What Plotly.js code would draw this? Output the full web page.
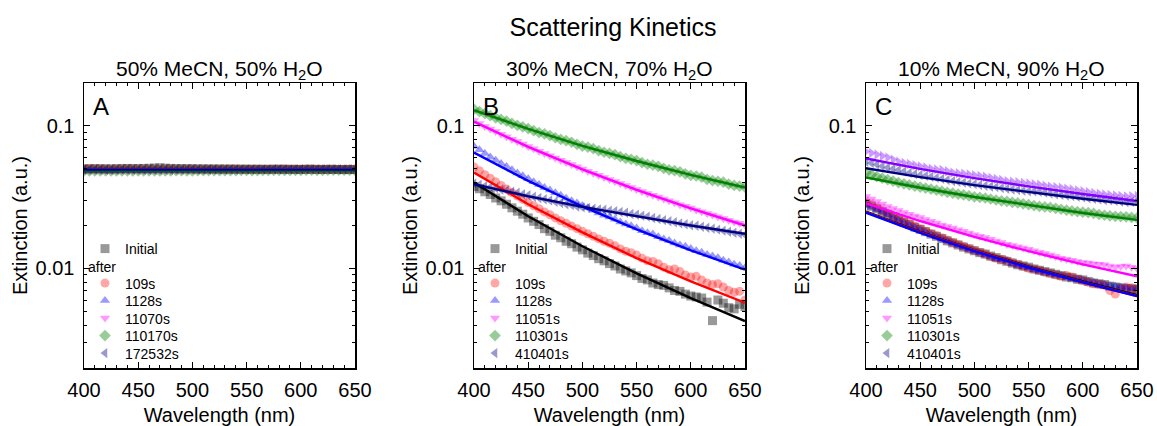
<!DOCTYPE html>
<html>
<head>
<meta charset="utf-8">
<script src="https://cdn.plot.ly/plotly-3.0.1.min.js"></script>
<style>html,body{margin:0;padding:0;background:#fff;}#chart{width:1157px;height:426px;}</style>
</head>
<body>
<div id="chart"></div>
<script>
// ---------------- DATA ----------------
const wl = [400,405,410,415,420,425,430,435,440,445,450,455,460,465,470,475,480,485,490,495,500,505,510,515,520,525,530,535,540,545,550,555,560,565,570,575,580,585,590,595,600,605,610,615,620,625,630,635,640,645,650];
const fitWl = [400,450,500,550,600,650];
const fitWlA = [400,650];

const seriesNamesA = ['Initial','109s','1128s','11070s','110170s','172532s'];
const seriesNamesBC = ['Initial','109s','1128s','11051s','110301s','410401s'];

// Panel A: 50% MeCN, 50% H2O
const A_initial = [0.0500,0.0501,0.0502,0.0501,0.0500,0.0500,0.0501,0.0502,0.0503,0.0502,0.0502,0.0503,0.0504,0.0506,0.0508,0.0505,0.0503,0.0502,0.0502,0.0501,0.0501,0.0500,0.0500,0.0499,0.0499,0.0499,0.0499,0.0498,0.0498,0.0497,0.0497,0.0497,0.0497,0.0496,0.0496,0.0497,0.0497,0.0496,0.0496,0.0495,0.0495,0.0496,0.0496,0.0495,0.0495,0.0495,0.0495,0.0494,0.0494,0.0494,0.0494];
const A_109s = [0.0496,0.0497,0.0497,0.0496,0.0496,0.0495,0.0496,0.0497,0.0496,0.0497,0.0496,0.0495,0.0496,0.0495,0.0495,0.0496,0.0496,0.0495,0.0495,0.0496,0.0496,0.0495,0.0495,0.0496,0.0496,0.0495,0.0495,0.0496,0.0496,0.0497,0.0496,0.0497,0.0497,0.0496,0.0497,0.0497,0.0496,0.0498,0.0497,0.0498,0.0497,0.0498,0.0498,0.0497,0.0497,0.0498,0.0498,0.0497,0.0497,0.0498,0.0498];
const A_1128s = [0.0490,0.0491,0.0491,0.0490,0.0489,0.0490,0.0490,0.0491,0.0491,0.0490,0.0490,0.0489,0.0489,0.0490,0.0490,0.0491,0.0491,0.0490,0.0490,0.0491,0.0492,0.0491,0.0491,0.0492,0.0492,0.0493,0.0493,0.0492,0.0492,0.0493,0.0493,0.0494,0.0494,0.0495,0.0495,0.0494,0.0494,0.0496,0.0496,0.0497,0.0497,0.0496,0.0496,0.0497,0.0498,0.0497,0.0497,0.0497,0.0497,0.0496,0.0496];
const A_11070s = [0.0488,0.0487,0.0487,0.0488,0.0488,0.0489,0.0489,0.0488,0.0488,0.0487,0.0487,0.0488,0.0488,0.0489,0.0489,0.0488,0.0488,0.0489,0.0489,0.0490,0.0490,0.0489,0.0489,0.0490,0.0490,0.0491,0.0491,0.0490,0.0490,0.0491,0.0491,0.0492,0.0492,0.0491,0.0491,0.0492,0.0492,0.0493,0.0493,0.0492,0.0492,0.0493,0.0493,0.0494,0.0494,0.0493,0.0493,0.0494,0.0494,0.0493,0.0493];
const A_110170s = [0.0484,0.0483,0.0483,0.0484,0.0484,0.0483,0.0483,0.0484,0.0484,0.0483,0.0483,0.0484,0.0484,0.0483,0.0483,0.0484,0.0484,0.0485,0.0485,0.0484,0.0484,0.0485,0.0485,0.0486,0.0486,0.0485,0.0485,0.0486,0.0486,0.0487,0.0487,0.0486,0.0486,0.0487,0.0487,0.0488,0.0488,0.0487,0.0487,0.0488,0.0488,0.0489,0.0489,0.0488,0.0488,0.0489,0.0489,0.0490,0.0490,0.0489,0.0489];
const A_172532s = [0.0492,0.0493,0.0493,0.0492,0.0492,0.0491,0.0491,0.0492,0.0492,0.0493,0.0493,0.0492,0.0492,0.0491,0.0491,0.0492,0.0492,0.0493,0.0493,0.0494,0.0494,0.0493,0.0493,0.0494,0.0494,0.0493,0.0493,0.0494,0.0494,0.0495,0.0495,0.0494,0.0494,0.0495,0.0495,0.0496,0.0496,0.0495,0.0495,0.0496,0.0496,0.0497,0.0497,0.0496,0.0496,0.0497,0.0497,0.0496,0.0496,0.0497,0.0497];
const A_fitInitial = [0.0495,0.0495];
const A_fit109s = [0.0496,0.0496];
const A_fit1128s = [0.0494,0.0494];
const A_fit11070s = [0.0492,0.0492];
const A_fit110170s = [0.0490,0.0490];
const A_fit172532s = [0.0493,0.0493];

// Panel B: 30% MeCN, 70% H2O
const B_initial = [0.0375,0.0362,0.0345,0.0330,0.0312,0.0298,0.0282,0.0266,0.0252,0.0240,0.0226,0.0214,0.0203,0.0190,0.0182,0.0171,0.0164,0.0155,0.0149,0.0141,0.0135,0.0128,0.0123,0.0117,0.0113,0.0108,0.0104,0.0099,0.0096,0.0093,0.0089,0.0085,0.0083,0.0079,0.0077,0.0076,0.0073,0.0070,0.0069,0.0066,0.0064,0.0063,0.0062,0.0058,0.0043,0.0060,0.0057,0.0053,0.0052,0.0056,0.0054];
const B_109s = [0.0515,0.0485,0.0455,0.0430,0.0405,0.0382,0.0360,0.0340,0.0322,0.0305,0.0290,0.0275,0.0262,0.0249,0.0238,0.0226,0.0216,0.0207,0.0198,0.0190,0.0182,0.0175,0.0168,0.0161,0.0155,0.0150,0.0144,0.0137,0.0132,0.0129,0.0124,0.0118,0.0113,0.0112,0.0108,0.0102,0.0098,0.0099,0.0095,0.0090,0.0087,0.0088,0.0083,0.0079,0.0077,0.0078,0.0074,0.0070,0.0068,0.0069,0.0060];
const B_1128s = [0.0720,0.0680,0.0640,0.0606,0.0575,0.0545,0.0518,0.0492,0.0468,0.0446,0.0425,0.0405,0.0388,0.0370,0.0355,0.0340,0.0326,0.0311,0.0298,0.0288,0.0276,0.0266,0.0256,0.0245,0.0236,0.0229,0.0221,0.0212,0.0205,0.0199,0.0192,0.0184,0.0178,0.0174,0.0167,0.0161,0.0157,0.0151,0.0146,0.0143,0.0138,0.0133,0.0130,0.0125,0.0122,0.0119,0.0114,0.0111,0.0107,0.0105,0.0101];
const B_11051s = [0.109,0.104,0.0990,0.0950,0.0915,0.0875,0.0838,0.0806,0.0778,0.0745,0.0716,0.0690,0.0665,0.0640,0.0617,0.0595,0.0574,0.0553,0.0535,0.0516,0.0498,0.0481,0.0466,0.0450,0.0434,0.0421,0.0408,0.0394,0.0381,0.0370,0.0358,0.0347,0.0336,0.0326,0.0317,0.0307,0.0298,0.0289,0.0280,0.0273,0.0265,0.0257,0.0250,0.0243,0.0237,0.0230,0.0224,0.0218,0.0212,0.0207,0.0202];
const B_110301s = [0.131,0.126,0.122,0.118,0.114,0.111,0.108,0.104,0.101,0.0985,0.0958,0.0925,0.0897,0.0878,0.0855,0.0826,0.0803,0.0788,0.0768,0.0742,0.0722,0.0710,0.0692,0.0670,0.0653,0.0642,0.0628,0.0608,0.0592,0.0583,0.0571,0.0552,0.0538,0.0530,0.0520,0.0503,0.0492,0.0485,0.0476,0.0461,0.0450,0.0445,0.0437,0.0422,0.0413,0.0409,0.0403,0.0390,0.0382,0.0378,0.0372];
const B_410401s = [0.0395,0.0386,0.0378,0.0372,0.0366,0.0358,0.0352,0.0346,0.0340,0.0332,0.0326,0.0318,0.0312,0.0306,0.0300,0.0293,0.0288,0.0282,0.0278,0.0272,0.0268,0.0266,0.0262,0.0259,0.0258,0.0254,0.0252,0.0249,0.0246,0.0241,0.0238,0.0234,0.0231,0.0226,0.0222,0.0218,0.0214,0.0211,0.0207,0.0204,0.0201,0.0199,0.0196,0.0193,0.0190,0.0187,0.0184,0.0181,0.0178,0.0175,0.0172];
const B_fitInitial = [0.040,0.0232,0.0143,0.00922,0.00618,0.00427];
const B_fit109s = [0.047,0.0282,0.0179,0.0118,0.00812,0.00574];
const B_fit1128s = [0.065,0.0411,0.0272,0.0188,0.0134,0.0098];
const B_fit11051s = [0.107,0.0712,0.0495,0.0356,0.0264,0.0200];
const B_fit110301s = [0.129,0.0952,0.0725,0.0567,0.0453,0.0369];
const B_fit410401s = [0.039,0.0321,0.0270,0.0231,0.0200,0.0175];

// Panel C: 10% MeCN, 90% H2O
const C_initial = [0.0285,0.0273,0.0262,0.0250,0.0240,0.0230,0.0220,0.0211,0.0203,0.0195,0.0188,0.0181,0.0174,0.0168,0.0162,0.0156,0.0151,0.0146,0.0141,0.0137,0.0133,0.0129,0.0126,0.0122,0.0119,0.0115,0.0112,0.0109,0.0106,0.0104,0.0102,0.0099,0.0097,0.0095,0.0093,0.0091,0.0089,0.0087,0.0086,0.0084,0.0083,0.0081,0.0079,0.0078,0.0077,0.0075,0.0074,0.0073,0.0072,0.0072,0.0071];
const C_109s = [0.0290,0.0280,0.0268,0.0255,0.0244,0.0234,0.0224,0.0215,0.0206,0.0198,0.0190,0.0183,0.0176,0.0170,0.0164,0.0158,0.0152,0.0148,0.0143,0.0138,0.0134,0.0130,0.0126,0.0121,0.0118,0.0116,0.0113,0.0110,0.0107,0.0103,0.0100,0.0099,0.0097,0.0094,0.0092,0.0090,0.0088,0.0089,0.0087,0.0084,0.0082,0.0080,0.0078,0.0077,0.0076,0.0070,0.0066,0.0072,0.0074,0.0073,0.0072];
const C_1128s = [0.0280,0.0269,0.0258,0.0248,0.0238,0.0228,0.0219,0.0210,0.0202,0.0194,0.0187,0.0180,0.0173,0.0167,0.0161,0.0156,0.0150,0.0145,0.0141,0.0136,0.0132,0.0128,0.0124,0.0120,0.0117,0.0115,0.0113,0.0108,0.0105,0.0103,0.0101,0.0098,0.0096,0.0094,0.0092,0.0090,0.0089,0.0087,0.0085,0.0084,0.0083,0.0081,0.0080,0.0078,0.0077,0.0076,0.0075,0.0074,0.0073,0.0072,0.0072];
const C_11051s = [0.0320,0.0307,0.0295,0.0283,0.0272,0.0263,0.0255,0.0247,0.0240,0.0233,0.0228,0.0220,0.0214,0.0208,0.0202,0.0197,0.0192,0.0187,0.0182,0.0177,0.0172,0.0168,0.0165,0.0160,0.0156,0.0152,0.0148,0.0145,0.0142,0.0139,0.0136,0.0133,0.0130,0.0127,0.0124,0.0121,0.0118,0.0116,0.0114,0.0112,0.0110,0.0109,0.0108,0.0107,0.0106,0.0104,0.0102,0.0103,0.0104,0.0102,0.0100];
const C_110301s = [0.0470,0.0455,0.0440,0.0430,0.0420,0.0410,0.0400,0.0392,0.0385,0.0378,0.0372,0.0366,0.0360,0.0354,0.0348,0.0342,0.0337,0.0332,0.0328,0.0323,0.0318,0.0315,0.0312,0.0307,0.0302,0.0298,0.0295,0.0291,0.0288,0.0284,0.0280,0.0276,0.0272,0.0270,0.0268,0.0264,0.0260,0.0256,0.0253,0.0250,0.0248,0.0246,0.0243,0.0239,0.0236,0.0234,0.0232,0.0231,0.0230,0.0228,0.0226];
const C_410401s = [0.0560,0.0548,0.0535,0.0522,0.0510,0.0500,0.0490,0.0479,0.0468,0.0460,0.0452,0.0446,0.0440,0.0432,0.0425,0.0417,0.0410,0.0405,0.0400,0.0395,0.0390,0.0385,0.0380,0.0376,0.0372,0.0367,0.0362,0.0358,0.0355,0.0351,0.0348,0.0347,0.0345,0.0340,0.0335,0.0331,0.0328,0.0325,0.0322,0.0318,0.0315,0.0311,0.0308,0.0305,0.0302,0.0300,0.0298,0.0295,0.0292,0.0293,0.0295];
const C_extra = [0.066,0.0645,0.063,0.0615,0.060,0.058,0.056,0.055,0.054,0.053,0.052,0.051,0.050,0.0495,0.049,0.048,0.047,0.0466,0.0462,0.0456,0.0450,0.0445,0.0440,0.0432,0.0425,0.0418,0.0410,0.0406,0.0402,0.0398,0.0395,0.0390,0.0386,0.0380,0.0375,0.0372,0.0368,0.0363,0.0358,0.0353,0.0348,0.0343,0.0338,0.0334,0.0330,0.0328,0.0325,0.0322,0.0320,0.0321,0.0322];
const C_fitInitial = [0.0250,0.01802,0.01345,0.0103,0.0081,0.0065];
const C_fit109s = [0.0248,0.0179,0.0134,0.0102,0.0080,0.0064];
const C_fit1128s = [0.0246,0.01773,0.01323,0.01015,0.00797,0.00638];
const C_fit11051s = [0.0286,0.0215,0.01664,0.0132,0.01068,0.0088];
const C_fit110301s = [0.0434,0.0368,0.0317,0.0277,0.0245,0.0219];
const C_fit410401s = [0.0504,0.0437,0.0384,0.0342,0.0308,0.0279];
const C_fitExtra = [0.059,0.0499,0.0430,0.0376,0.0333,0.0297];

// ---------------- STYLE ----------------
const FONT = 'Liberation Sans, Arial, Helvetica, sans-serif';
const markerColors = ['rgba(0,0,0,0.4)','rgba(255,0,0,0.35)','rgba(0,0,255,0.4)','rgba(255,0,255,0.4)','rgba(0,128,0,0.4)','rgba(0,0,128,0.4)'];
const lineColors = ['#000000','#ff0000','#0000ff','#ff00ff','#008000','#000080'];
const symbols = ['square','circle','triangle-up','triangle-down','diamond','triangle-left'];
const extraMarkerColor = 'rgba(128,0,255,0.4)';
const extraLineColor = '#8000ff';

const W = 1157, H = 426;
const panelsPx = [[84, 355], [474, 745], [866, 1137]];
const legendRowsPx = [249, 283.5, 301, 318.5, 336, 353.5];

const traces = [];
const legends = {};
function legendId(p, k) { const n = p * 6 + k + 1; return n === 1 ? 'legend' : 'legend' + n; }

function addPanel(p, xvals, names, series, fitX, fits, extra) {
  const ax = p === 0 ? '' : String(p + 1);
  const xa = 'x' + ax, ya = 'y' + ax;
  series.forEach((vals, i) => {
    const lid = legendId(p, i);
    legends[lid] = {x: (panelsPx[p][0] + 1) / W, y: 1 - (legendRowsPx[i] - 16) / H,
      xanchor: 'left', yanchor: 'top', bgcolor: 'rgba(0,0,0,0)', borderwidth: 0,
      itemsizing: 'trace', font: {family: FONT, size: 14, color: '#000'}};
    traces.push({x: xvals, y: vals, xaxis: xa, yaxis: ya, type: 'scatter', mode: 'markers',
      name: names[i], legend: lid, showlegend: true,
      marker: {symbol: symbols[i], size: 9, color: markerColors[i], line: {width: 0}}});
  });
  if (extra) {
    traces.push({x: xvals, y: extra.vals, xaxis: xa, yaxis: ya, type: 'scatter', mode: 'markers',
      showlegend: false, marker: {symbol: 'triangle-right', size: 9, color: extraMarkerColor, line: {width: 0}}});
    traces.push({x: fitX, y: extra.fit, xaxis: xa, yaxis: ya, type: 'scatter', mode: 'lines',
      showlegend: false, line: {color: extraLineColor, width: 2.4}});
  }
  fits.forEach((vals, i) => {
    traces.push({x: fitX, y: vals, xaxis: xa, yaxis: ya, type: 'scatter', mode: 'lines',
      showlegend: false, line: {color: lineColors[i], width: 2.4}});
  });
}

addPanel(0, wl, seriesNamesA,
  [A_initial, A_109s, A_1128s, A_11070s, A_110170s, A_172532s], fitWlA,
  [A_fitInitial, A_fit109s, A_fit1128s, A_fit11070s, A_fit110170s, A_fit172532s]);
addPanel(1, wl, seriesNamesBC,
  [B_initial, B_109s, B_1128s, B_11051s, B_110301s, B_410401s], fitWl,
  [B_fitInitial, B_fit109s, B_fit1128s, B_fit11051s, B_fit110301s, B_fit410401s]);
addPanel(2, wl, seriesNamesBC,
  [C_initial, C_109s, C_1128s, C_11051s, C_110301s, C_410401s], fitWl,
  [C_fitInitial, C_fit109s, C_fit1128s, C_fit11051s, C_fit110301s, C_fit410401s],
  {vals: C_extra, fit: C_fitExtra});

// ---------------- LAYOUT ----------------
const yTopPx = 83, yBotPx = 368;
const yDom = [1 - yBotPx / H, 1 - yTopPx / H];
const minorLog = [0.002,0.003,0.004,0.005,0.006,0.007,0.008,0.009,0.02,0.03,0.04,0.05,0.06,0.07,0.08,0.09,0.2];

function xAxis(i) {
  return {domain: [panelsPx[i][0] / W, panelsPx[i][1] / W], anchor: i === 0 ? 'y' : 'y' + (i + 1),
    range: [400, 650], tickmode: 'linear', tick0: 400, dtick: 50,
    ticks: 'inside', ticklen: 6, tickwidth: 1, tickcolor: '#000',
    minor: {ticks: 'inside', ticklen: 3, tickwidth: 1, tickcolor: '#000', dtick: 10, tick0: 400},
    showline: true, linecolor: '#000', linewidth: 1.5, mirror: 'ticks',
    showgrid: false, zeroline: false, automargin: false,
    tickfont: {family: FONT, size: 20, color: '#000'}, ticklabelstandoff: 3,
    title: {text: 'Wavelength (nm)', font: {family: FONT, size: 20, color: '#000'}, standoff: 10}};
}
function yAxis(i) {
  return {domain: yDom, anchor: i === 0 ? 'x' : 'x' + (i + 1), type: 'log',
    range: [Math.log10(0.002), Math.log10(0.2)],
    tickmode: 'array', tickvals: [0.01, 0.1], ticktext: ['0.01', '0.1'],
    ticks: 'inside', ticklen: 6, tickwidth: 1, tickcolor: '#000',
    minor: {ticks: 'inside', ticklen: 3, tickwidth: 1, tickcolor: '#000', tickmode: 'array', tickvals: minorLog},
    showline: true, linecolor: '#000', linewidth: 1.5, mirror: 'ticks',
    showgrid: false, zeroline: false, automargin: false,
    tickfont: {family: FONT, size: 20, color: '#000'}, ticklabelstandoff: 4,
    title: {text: 'Extinction (a.u.)', font: {family: FONT, size: 20, color: '#000'}, standoff: 2}};
}

const subTitles = ['50% MeCN, 50% H<sub>2</sub>O', '30% MeCN, 70% H<sub>2</sub>O', '10% MeCN, 90% H<sub>2</sub>O'];
const letters = ['A', 'B', 'C'];
const annotations = [];
panelsPx.forEach((p, i) => {
  annotations.push({xref: 'paper', yref: 'paper', x: (p[0] + p[1]) / 2 / W, y: 1 - 70 / H,
    xanchor: 'center', yanchor: 'middle', showarrow: false, text: subTitles[i],
    font: {family: FONT, size: 21, color: '#000'}});
  annotations.push({xref: 'paper', yref: 'paper', x: (p[0] + 7) / W, y: 1 - 107 / H,
    xanchor: 'left', yanchor: 'middle', showarrow: false, text: letters[i],
    font: {family: FONT, size: 24, color: '#000'}});
  annotations.push({xref: 'paper', yref: 'paper', x: (p[0] + 2) / W, y: 1 - 266.5 / H,
    xanchor: 'left', yanchor: 'middle', showarrow: false, text: 'after',
    font: {family: FONT, size: 14, color: '#000'}});
});

const layout = Object.assign({
  width: W, height: H, margin: {l: 0, r: 0, t: 0, b: 0},
  paper_bgcolor: '#fff', plot_bgcolor: '#fff',
  font: {family: FONT, color: '#000'},
  title: {text: 'Scattering Kinetics', font: {family: FONT, size: 25, color: '#000'},
    x: 613 / W, xanchor: 'center', xref: 'paper', y: 1 - 27 / H, yanchor: 'middle', yref: 'container'},
  xaxis: xAxis(0), xaxis2: xAxis(1), xaxis3: xAxis(2),
  yaxis: yAxis(0), yaxis2: yAxis(1), yaxis3: yAxis(2),
  annotations: annotations
}, legends);

Plotly.newPlot('chart', traces, layout, {displayModeBar: false, staticPlot: true});
</script>
</body>
</html>
